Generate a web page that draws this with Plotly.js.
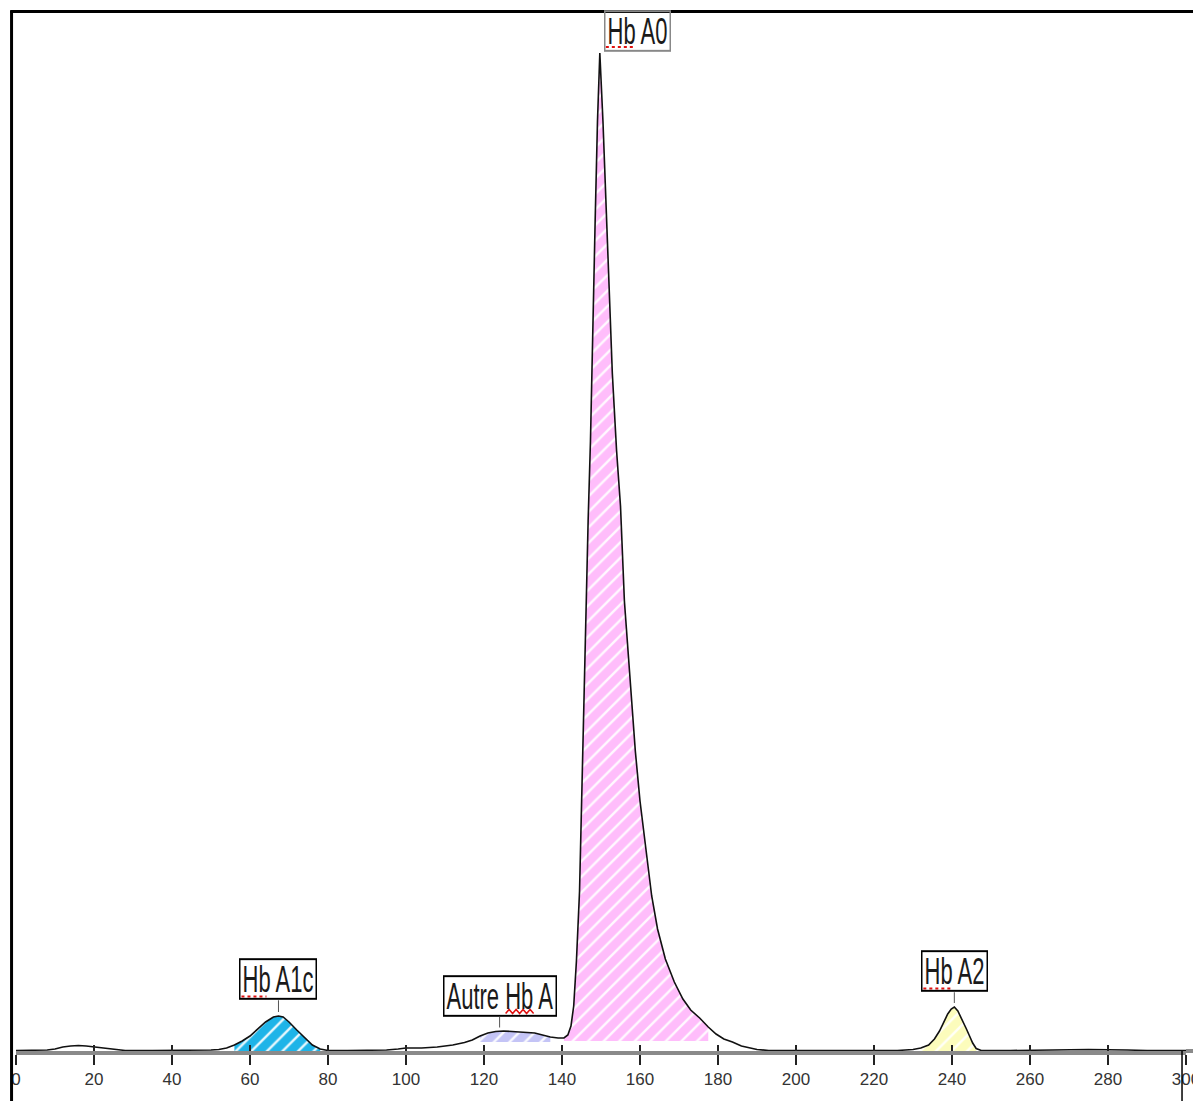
<!DOCTYPE html>
<html>
<head>
<meta charset="utf-8">
<script src="https://cdn.plot.ly/plotly-3.0.1.min.js"></script>
<style>
html,body{margin:0;padding:0;background:#fff}
#chart{width:1193px;height:1101px}
g.annotation text.annotation-text{transform-box:fill-box;transform-origin:50% 50%;transform:scale(1,1.7)}
g.annotation rect.bg{transform-box:fill-box;transform-origin:50% 50%;transform:scale(1,1.3)}
</style>
</head>
<body>
<div id="chart"></div>
<script>
// Chromatogram: retention (x) and detector signal (y, arbitrary units)
const retention = [0,5,8,10,12,14,16,18,20,22,24,26,28,35,45,50,52,54,56,58,60,62,64,66,67.3,68.5,70,72,74,76,78,80,85,90,95,98,100,104,108,112,115,117,119,121,123,125,127,130,133,135,137,139,140.5,141.5,142.3,143,143.7,144.5,145.3,146,146.7,147.3,147.8,148.5,149.1,149.7,150.5,151.3,152.1,152.9,154,155,156,156.8,158,158.8,160,161.7,163,164.5,166.5,168.8,171,173,175.3,177.5,179.5,181.5,183.7,186,188,190,193,200,210,220,226,230,232,234,235.5,236.8,238,238.9,239.8,240.6,241.5,242.8,243.7,244.5,245.3,246.2,247.5,255,265,275,285,290,300];
const signal    = [0.5,0.5,1,2,4,5,5.5,5,4,3,2,1,0.5,0.5,0.5,1,1.5,3,6,10,15,22,29,34,35,34,29,21,13,6,2,0.5,0.5,0.5,1,2,3,3,4,6,8.5,11,15,18,19.5,20,19.5,18.5,18,16,14,13,13,16,25,45,90,160,300,420,530,610,690,830,930,998,930,844,760,678,600,545,450,405,340,300,250,194,155,122,92,69,52,41,33,24,17,12,9,5,3,1.5,0.5,0.5,0.5,0.5,0.5,1.5,3,6,12,20,29,37,42,44,40,30,22,15,8,2.5,0.5,0.5,1,1.5,1,0.5,0.5];

// Integrated peaks
const peakNames  = ['Hb A1c', 'Autre Hb A', 'Hb A0', 'Hb A2'];
const peakStart  = [55, 119, 140.5, 231.5];
const peakEnd    = [79, 137.5, 178.5, 246.5];
const peakBase   = [0, 9, 10, 0];
const peakApex   = [67.3, 124, 149.7, 240.6];
const peakColors = ['#1eb4e8', '#c4c4f6', '#ffbdfb', '#fcfcbc'];

// X-axis ticks
const tickVals = [0,20,40,60,80,100,120,140,160,180,200,220,240,260,280,300];
const tickText = tickVals.map(String);

const fontFam = '"Liberation Sans", Arial, sans-serif';

const traces = [];
peakNames.forEach((name, i) => {
  const xs = [], ys = [];
  retention.forEach((r, k) => {
    if (r >= peakStart[i] && r <= peakEnd[i]) { xs.push(r); ys.push(signal[k]); }
  });
  traces.push({
    type: 'scatter', mode: 'lines', name: name,
    x: xs.concat([xs[xs.length - 1], xs[0]]),
    y: ys.concat([peakBase[i], peakBase[i]]),
    fill: 'toself', fillcolor: peakColors[i],
    fillpattern: {shape: '/', bgcolor: peakColors[i], fgcolor: 'rgba(255,255,255,0.9)', size: 11, solidity: 0.22},
    line: {width: 0}, hoverinfo: 'skip'
  });
});
traces.push({
  type: 'scatter', mode: 'lines', x: retention, y: signal,
  line: {color: '#111', width: 1.6}, name: 'signal'
});
// carrier for the inner tick axis
traces.push({type: 'scatter', mode: 'lines', x: [0, 300], y: [0, 0], xaxis: 'x2',
  line: {width: 0, color: 'rgba(0,0,0,0)'}, hoverinfo: 'skip'});

function sigAt(x) {
  let best = 0, d = 1e9;
  retention.forEach((r, k) => { if (Math.abs(r - x) < d) { d = Math.abs(r - x); best = signal[k]; } });
  return best;
}

const boxFont = {family: fontFam, size: 22, color: '#1a1a1a'};
const clear = 'rgba(255,255,255,0)';
const annotations = [
  {x: peakApex[0], y: sigAt(peakApex[0]), text: peakNames[0], showarrow: true, arrowhead: 0,
   arrowwidth: 1, arrowcolor: '#555', ax: 0, ay: -37, standoff: 4, startstandoff: 6,
   bordercolor: '#000', borderwidth: 1.5, borderpad: 2, bgcolor: clear, font: boxFont},
  {x: peakApex[1], y: sigAt(peakApex[1]), text: peakNames[1], showarrow: true, arrowhead: 0,
   arrowwidth: 1, arrowcolor: '#555', ax: 0, ay: -36, standoff: 4, startstandoff: 6,
   bordercolor: '#000', borderwidth: 1.5, borderpad: 2, bgcolor: clear, font: boxFont},
  {x: peakApex[2], y: sigAt(peakApex[2]), text: peakNames[2], showarrow: false,
   xanchor: 'left', yanchor: 'bottom', xshift: 4, yshift: 6,
   bordercolor: '#888', borderwidth: 1.5, borderpad: 2, bgcolor: clear, font: boxFont},
  {x: peakApex[3], y: sigAt(peakApex[3]), text: peakNames[3], showarrow: true, arrowhead: 0,
   arrowwidth: 1, arrowcolor: '#555', ax: 0, ay: -36, standoff: 4, startstandoff: 6,
   bordercolor: '#000', borderwidth: 1.5, borderpad: 2, bgcolor: clear, font: boxFont}
];

const shapes = [];
// red spell-check marks inside the label boxes (pixel offsets from each peak apex)
const squigX0 = [-37, 6, 6, -31];
const squigX1 = [-12, 34, 34, -3];
const squigY  = [19.5, 18, 6, 18.5];
peakApex.forEach((a, i) => {
  if (i === 1) {
    let p = 'M' + squigX0[i] + ',' + squigY[i];
    for (let dx = squigX0[i] + 3.5, up = true; dx <= squigX1[i]; dx += 3.5, up = !up) {
      p += ' L' + dx + ',' + (squigY[i] + (up ? 4 : 0));
    }
    shapes.push({type: 'path', xref: 'x', yref: 'y', xsizemode: 'pixel', ysizemode: 'pixel',
      xanchor: a, yanchor: sigAt(a), path: p, line: {color: '#e01010', width: 1.5}});
  } else {
    shapes.push({type: 'line', xref: 'x', yref: 'y', xsizemode: 'pixel', ysizemode: 'pixel',
      xanchor: a, yanchor: sigAt(a), x0: squigX0[i], x1: squigX1[i], y0: squigY[i], y1: squigY[i],
      line: {color: '#e01010', width: 2, dash: 'dot'}});
  }
});
// frame
shapes.push({type: 'line', xref: 'paper', yref: 'paper', x0: -0.0038, x1: -0.0038, y0: 1.0, y1: -0.05,
  line: {color: '#000', width: 3}});
shapes.push({type: 'line', xref: 'paper', yref: 'paper', x0: -0.005, x1: 1.01, y0: 0.9995, y1: 0.9995,
  line: {color: '#000', width: 3}});
shapes.push({type: 'line', xref: 'paper', yref: 'paper', x0: 0.9966, x1: 0.9966, y0: 0, y1: -0.05,
  line: {color: '#000', width: 1.5}});
shapes.push({type: 'line', xref: 'paper', yref: 'paper', x0: 1, x1: 1.01, y0: 0, y1: 0,
  line: {color: '#8a8a8a', width: 4}, layer: 'below'});

const layout = {
  width: 1193, height: 1101,
  margin: {l: 16, r: 7, t: 11, b: 50},
  paper_bgcolor: '#fff', plot_bgcolor: '#fff',
  showlegend: false,
  xaxis: {range: [0, 300], tickvals: tickVals, ticktext: tickText,
    ticks: 'outside', ticklen: 10, tickwidth: 1.5, tickcolor: '#222',
    showline: true, linecolor: '#8a8a8a', linewidth: 4, layer: 'below traces',
    showgrid: false, zeroline: false, ticklabeloverflow: 'allow',
    tickfont: {family: fontFam, size: 17, color: '#333'}},
  xaxis2: {overlaying: 'x', matches: 'x', anchor: 'y', side: 'bottom', range: [0, 300],
    tickvals: tickVals, ticks: 'inside', ticklen: 6, tickwidth: 1.5, tickcolor: '#222',
    showticklabels: false, showline: false, showgrid: false, zeroline: false},
  yaxis: {range: [0, 1040], visible: false, fixedrange: true},
  annotations: annotations,
  shapes: shapes
};

Plotly.newPlot('chart', traces, layout, {displayModeBar: false, staticPlot: true});
</script>
</body>
</html>
